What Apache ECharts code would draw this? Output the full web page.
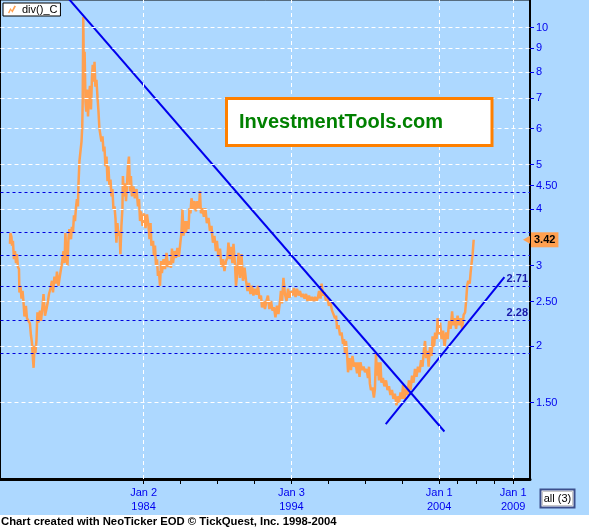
<!DOCTYPE html>
<html><head><meta charset="utf-8">
<script src="https://cdn.jsdelivr.net/npm/echarts@6/dist/echarts.min.js"></script>
<style>html,body{margin:0;padding:0;background:#fff;}#c{width:589px;height:529px;}</style>
</head><body><div id="c"></div>
<script>
const dates = [
1974.96,1974.99,1975.06,1975.10,1975.16,1975.23,1975.30,1975.37,1975.43,1975.50,
1975.57,1975.60,1975.67,1975.74,1975.81,1975.87,1975.94,1976.04,1976.11,1976.21,
1976.31,1976.38,1976.45,1976.52,1976.56,1976.62,1976.68,1976.75,1976.82,1976.89,
1976.99,1977.06,1977.16,1977.23,1977.33,1977.43,1977.53,1977.60,1977.70,1977.80,
1977.87,1977.97,1978.07,1978.14,1978.24,1978.34,1978.48,1978.58,1978.65,1978.71,
1978.78,1978.85,1978.92,1978.98,1979.09,1979.15,1979.22,1979.29,1979.36,1979.42,
1979.49,1979.56,1979.59,1979.66,1979.73,1979.80,1979.85,1979.88,1979.92,1979.96,
1980.01,1980.07,1980.12,1980.17,1980.24,1980.30,1980.37,1980.44,1980.51,1980.56,
1980.63,1980.68,1980.74,1980.81,1980.88,1980.95,1981.01,1981.08,1981.15,1981.22,
1981.29,1981.35,1981.42,1981.49,1981.56,1981.62,1981.69,1981.76,1981.83,1981.89,
1981.96,1982.03,1982.10,1982.16,1982.23,1982.30,1982.37,1982.43,1982.50,1982.57,
1982.60,1982.67,1982.74,1982.81,1982.87,1982.94,1983.01,1983.08,1983.14,1983.21,
1983.31,1983.41,1983.52,1983.62,1983.69,1983.76,1983.82,1983.93,1984.03,1984.13,
1984.23,1984.33,1984.40,1984.47,1984.53,1984.64,1984.70,1984.77,1984.84,1984.91,
1984.97,1985.04,1985.11,1985.18,1985.24,1985.35,1985.45,1985.55,1985.65,1985.75,
1985.85,1985.92,1985.99,1986.09,1986.19,1986.29,1986.39,1986.50,1986.56,1986.63,
1986.70,1986.77,1986.87,1986.94,1987.04,1987.10,1987.17,1987.24,1987.34,1987.44,
1987.54,1987.64,1987.75,1987.81,1987.88,1987.98,1988.08,1988.18,1988.28,1988.39,
1988.49,1988.59,1988.69,1988.79,1988.89,1988.96,1989.06,1989.17,1989.27,1989.37,
1989.47,1989.57,1989.67,1989.74,1989.84,1989.91,1990.01,1990.08,1990.18,1990.25,
1990.35,1990.42,1990.52,1990.62,1990.72,1990.83,1990.93,1991.03,1991.13,1991.23,
1991.33,1991.43,1991.53,1991.64,1991.74,1991.84,1991.94,1992.01,1992.11,1992.21,
1992.31,1992.41,1992.51,1992.62,1992.72,1992.82,1992.92,1993.02,1993.12,1993.23,
1993.29,1993.36,1993.46,1993.56,1993.67,1993.77,1993.87,1993.97,1994.07,1994.17,
1994.28,1994.38,1994.48,1994.58,1994.68,1994.78,1994.89,1994.99,1995.09,1995.19,
1995.29,1995.39,1995.50,1995.60,1995.70,1995.80,1995.87,1995.97,1996.04,1996.14,
1996.24,1996.34,1996.44,1996.54,1996.64,1996.75,1996.85,1996.95,1997.02,1997.09,
1997.19,1997.29,1997.39,1997.49,1997.56,1997.63,1997.69,1997.76,1997.83,1997.93,
1998.03,1998.13,1998.23,1998.34,1998.44,1998.50,1998.61,1998.67,1998.77,1998.88,
1998.98,1999.08,1999.18,1999.25,1999.31,1999.38,1999.48,1999.58,1999.65,1999.72,
1999.79,1999.85,1999.92,2000.02,2000.09,2000.19,2000.29,2000.40,2000.50,2000.60,
2000.70,2000.80,2000.90,2001.00,2001.11,2001.17,2001.28,2001.38,2001.48,2001.55,
2001.65,2001.75,2001.85,2001.95,2002.06,2002.16,2002.26,2002.36,2002.46,2002.56,
2002.67,2002.77,2002.87,2002.97,2003.04,2003.11,2003.21,2003.28,2003.38,2003.48,
2003.55,2003.65,2003.72,2003.82,2003.89,2003.99,2004.06,2004.16,2004.26,2004.36,
2004.47,2004.57,2004.67,2004.77,2004.87,2004.94,2005.04,2005.14,2005.24,2005.35,
2005.45,2005.55,2005.65,2005.75,2005.82,2005.89,2005.96,2006.06,2006.12,2006.19,
2006.26,2006.33];
const ratio = [
3.35,3.54,3.47,3.32,3.40,3.10,3.23,3.04,3.18,2.98,
2.95,2.62,2.71,2.54,2.64,2.51,2.32,2.45,2.30,2.27,
2.24,2.11,2.03,1.86,1.79,2.00,1.93,2.05,2.37,2.25,
2.39,2.27,2.44,2.60,2.33,2.41,2.51,2.60,2.67,2.78,
2.62,2.84,2.74,2.91,2.71,2.85,3.04,3.23,3.04,3.54,
3.18,3.00,3.45,3.61,3.43,3.65,3.54,3.87,3.76,4.01,
4.20,4.05,4.48,5.09,5.35,5.62,6.06,6.88,10.55,8.00,
8.85,6.88,6.54,7.31,6.38,7.05,7.45,6.61,7.80,8.29,
7.61,8.41,7.42,7.68,7.05,6.54,6.00,6.06,5.62,5.77,
5.35,5.48,4.96,5.21,4.60,4.96,4.48,4.64,4.26,4.42,
3.99,4.05,3.80,3.37,3.72,3.49,3.58,3.18,3.67,4.01,
4.72,4.26,4.55,4.16,4.48,4.96,5.21,4.37,4.72,4.26,
4.48,4.22,4.42,4.05,4.20,3.76,3.95,3.67,3.91,3.63,
3.89,3.67,3.43,3.72,3.32,3.40,3.15,3.32,3.00,3.10,
2.85,2.92,2.71,3.07,2.89,3.10,2.95,3.20,2.98,3.07,
2.97,3.27,3.04,3.23,3.12,3.28,3.14,3.40,3.54,3.99,
3.49,3.76,3.54,3.76,3.61,4.01,3.91,4.22,3.99,4.16,
3.95,4.16,4.01,4.37,3.91,4.01,3.84,4.01,3.72,3.82,
3.58,3.67,3.37,3.49,3.23,3.40,3.14,3.27,2.98,3.10,
2.92,3.07,3.12,3.37,3.10,3.30,3.04,3.35,3.03,2.71,
2.92,3.20,2.82,3.18,2.78,2.97,2.78,2.64,2.75,2.60,
2.71,2.58,2.67,2.59,2.71,2.54,2.58,2.43,2.51,2.41,
2.51,2.58,2.41,2.51,2.39,2.43,2.31,2.45,2.35,2.51,
2.64,2.48,2.82,2.60,2.51,2.67,2.55,2.64,2.58,2.68,
2.56,2.67,2.58,2.64,2.56,2.60,2.54,2.60,2.51,2.58,
2.51,2.56,2.51,2.56,2.51,2.56,2.64,2.54,2.74,2.58,
2.62,2.51,2.54,2.45,2.49,2.39,2.41,2.30,2.33,2.18,
2.22,2.11,2.14,2.02,2.07,1.92,2.05,1.93,1.75,1.88,
1.77,1.90,1.80,1.84,1.74,1.84,1.71,1.84,1.77,1.80,
1.75,1.78,1.70,1.80,1.65,1.60,1.62,1.54,1.61,1.92,
1.72,1.84,1.68,1.84,1.66,1.70,1.63,1.68,1.60,1.63,
1.56,1.60,1.53,1.57,1.48,1.55,1.50,1.58,1.53,1.64,
1.53,1.61,1.56,1.68,1.60,1.72,1.66,1.78,1.71,1.80,
1.75,1.86,1.80,1.97,2.05,1.88,1.95,1.80,2.00,1.90,
2.10,1.99,2.14,2.07,2.30,2.12,2.25,2.07,2.16,1.99,
2.14,2.07,2.27,2.18,2.38,2.22,2.30,2.18,2.33,2.22,
2.30,2.18,2.34,2.37,2.51,2.71,2.78,2.74,2.89,3.04,
3.18,3.42];
const yTickValues = [1.5,2,2.5,3,4,4.5,5,6,7,8,9,10];
const xLabelDates = [1984,1994,2004,2009];
const xLabelText = ['Jan 2\n1984','Jan 3\n1994','Jan 1\n2004','Jan 1\n2009'];
const xTickDates = [1984,1986.5,1989,1991.5,1994,1996.5,1999,2001.5,2004,2005.25,2006.5,2007.75,2009];
const levelLines = [4.34,3.55,3.16,2.71,2.28,1.93];
const labeledLevels = [2.71,2.28];
const downTrend = [[1978.54,11.97],[2004.35,1.297]];
const upTrend = [[2000.38,1.347],[2008.41,2.83]];
const lastValue = 3.42;
const seriesName = 'div()_C';

const FONT = '"Liberation Sans", Arial, sans-serif';
const ORANGE = '#ffa050';
const AXISBLUE = '#0000ee';

const priceData = dates.map((d,i)=>[d, ratio[i]]);

const chart = echarts.init(document.getElementById('c'), null, {renderer:'canvas'});
chart.setOption({
  animation:false,
  backgroundColor:'#add8ff',
  textStyle:{fontFamily:FONT},
  grid:{left:0.5, right:59, top:-2, bottom:50, show:true, borderColor:'#000', borderWidth:1, backgroundColor:'transparent'},
  legend:{
    data:[{name:seriesName, icon:'path://M0,9 L3,3 L5,6 L8,0 L10,1 L5.5,9 L3.5,6 L1.5,10Z'}],
    left:3, top:3, orient:'horizontal', backgroundColor:'#fff', borderColor:'#000', borderWidth:1,
    padding:[1,3,1,5], itemWidth:10, itemHeight:8, itemGap:4,
    textStyle:{fontSize:11, color:'#000', fontFamily:FONT}
  },
  xAxis:{
    type:'value', min:1974.32, max:2010.14, position:'bottom',
    axisLine:{show:true, onZero:false, lineStyle:{color:'#000', width:3}},
    axisTick:{show:true, customValues:xTickDates, length:5, lineStyle:{color:'#000', width:1}},
    axisLabel:{customValues:xLabelDates, color:AXISBLUE, fontSize:11, lineHeight:14, margin:7, fontFamily:FONT,
      formatter:function(v){ for(let i=0;i<xLabelDates.length;i++){ if(Math.abs(v-xLabelDates[i])<0.01) return xLabelText[i]; } return ''; }},
    splitLine:{show:false}
  },
  yAxis:{
    type:'log', logBase:10, min:1.02, max:11.5, position:'right',
    axisLine:{show:true, lineStyle:{color:'#000', width:2}},
    axisTick:{show:true, customValues:yTickValues, length:4, lineStyle:{color:AXISBLUE, width:1}},
    axisLabel:{customValues:yTickValues, color:AXISBLUE, fontSize:11, margin:6, fontFamily:FONT,
      formatter:function(v){ const r=Math.round(v); return Math.abs(v-r)<1e-6 ? String(r) : v.toFixed(2); }},
    splitLine:{show:false}, minorTick:{show:false}, minorSplitLine:{show:false}
  },
  series:[
    { name:'grid', type:'line', data:[[1975,2]], showSymbol:false, lineStyle:{opacity:0}, silent:true, z:1,
      markLine:{silent:true, symbol:'none', animation:false, label:{show:false},
        lineStyle:{color:'#ffffff', type:[4,3], width:1},
        data:[...yTickValues.map(v=>({yAxis:v})), ...xLabelDates.map(d=>({xAxis:d}))]}
    },
    { name:'levels', type:'line', data:[[1975,2]], showSymbol:false, lineStyle:{opacity:0}, silent:true, z:2,
      markLine:{silent:true, symbol:'none', animation:false,
        lineStyle:{color:'#0000dd', type:[3,3], width:1},
        data:levelLines.map(v=>({yAxis:v, label:{show: labeledLevels.indexOf(v)>=0, position:'insideEndTop', distance:[2,1],
          formatter:v.toFixed(2), color:'#1a1aa8', fontWeight:'bold', fontSize:11, fontFamily:FONT}}))}
    },
    { name:seriesName, type:'line', data:priceData, showSymbol:false, z:3,
      lineStyle:{color:ORANGE, width:2.5}, itemStyle:{color:ORANGE},
      markPoint:{silent:true, animation:false, symbol:'triangle', symbolSize:[8,7], symbolRotate:90,
        itemStyle:{color:ORANGE}, label:{show:false}, data:[{coord:[2009.9, lastValue]}]}
    },
    { name:'lastLabel', type:'line', data:[[1975,2]], showSymbol:false, lineStyle:{opacity:0}, silent:true, z:5,
      markLine:{silent:true, symbol:'none', animation:false, lineStyle:{color:'rgba(0,0,0,0)', width:0},
        data:[{yAxis:lastValue, label:{show:true, position:'end', distance:1, formatter:lastValue.toFixed(2),
          backgroundColor:ORANGE, color:'#000', fontWeight:'bold', fontSize:11, padding:[2,3,2,3], fontFamily:FONT}}]}
    },
    { name:'down', type:'line', data:downTrend, showSymbol:false, z:4, lineStyle:{color:'#0000ee', width:2}, silent:true },
    { name:'up', type:'line', data:upTrend, showSymbol:false, z:4, lineStyle:{color:'#0000ee', width:2}, silent:true }
  ],
  graphic:[
    {type:'rect', shape:{x:0, y:515, width:589, height:14}, style:{fill:'#fff'}, z:1},
    {type:'text', x:1, y:522, style:{text:'Chart created with NeoTicker EOD © TickQuest, Inc. 1998-2004', fill:'#000',
      font:'bold 11.3px "Liberation Sans", Arial, sans-serif', verticalAlign:'middle'}, z:2},
    {type:'rect', shape:{x:226.5, y:98.5, width:265.5, height:47}, style:{fill:'#fff', stroke:'#ff8000', lineWidth:3}, z:50},
    {type:'text', x:239, y:122, style:{text:'InvestmentTools.com', fill:'#008000',
      font:'bold 20px "Liberation Sans", Arial, sans-serif', verticalAlign:'middle'}, z:51},
    {type:'rect', shape:{x:540.5, y:489.5, width:34, height:18}, style:{fill:'#fff', stroke:'#3c4f8c', lineWidth:2}, z:50},
    {type:'rect', shape:{x:542.5, y:491.5, width:30, height:14}, style:{fill:'#fff', stroke:'#c8c8c8', lineWidth:1}, z:51},
    {type:'text', x:557.5, y:499, style:{text:'all (3)', fill:'#000', font:'11px "Liberation Sans", Arial, sans-serif',
      align:'center', verticalAlign:'middle'}, z:52}
  ]
});
</script></body></html>
